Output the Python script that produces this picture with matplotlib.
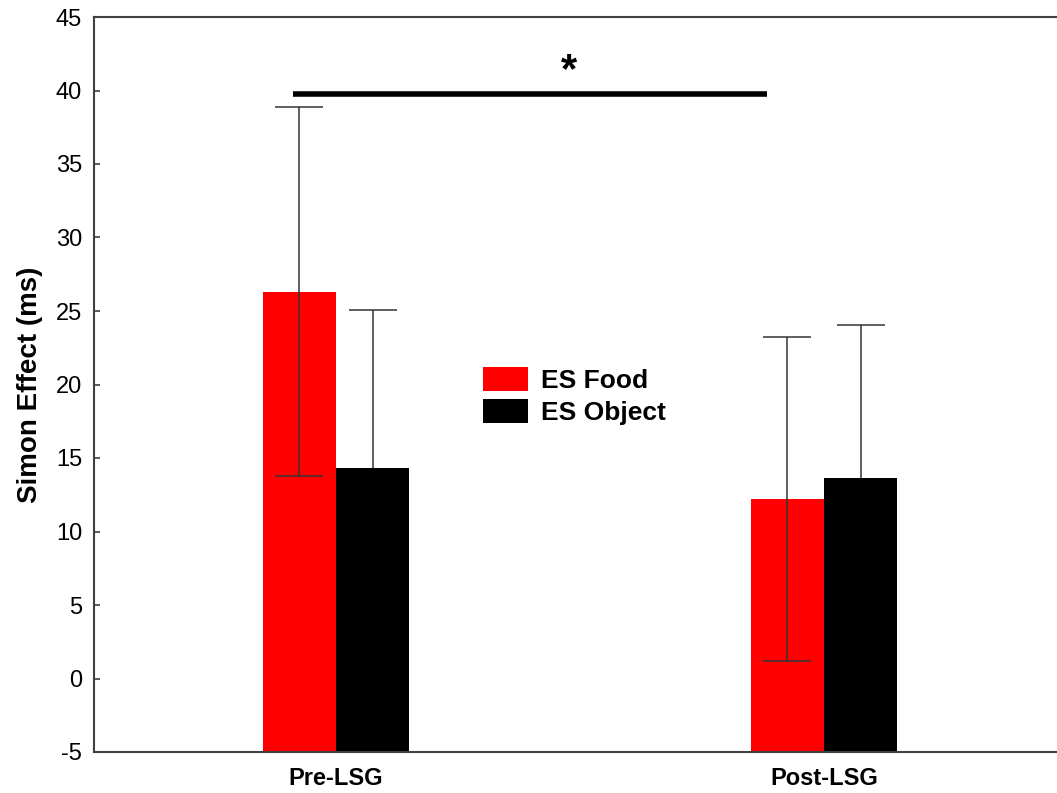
import matplotlib
matplotlib.use("Agg")
import matplotlib.pyplot as plt
import numpy as np

plt.rcParams['font.family'] = ['Liberation Sans', 'DejaVu Sans']
plt.rcParams['axes.unicode_minus'] = False

groups = ["Pre-LSG", "Post-LSG"]
series = ["ES Food", "ES Object"]
food_means = [26.3, 12.2]
food_err = [12.55, 11.0]
object_means = [14.3, 13.65]
object_err = [10.8, 10.37]
yticks = [-5, 0, 5, 10, 15, 20, 25, 30, 35, 40, 45]

colors = ["#ff0000", "#000000"]
dpi = 100
fig = plt.figure(figsize=(10.57, 7.93), dpi=dpi)
W, H = 1057, 793
left, right, top, bottom = 94, 1068, 17, 752
ax = fig.add_axes([left / W, 1 - bottom / H, (right - left) / W, (bottom - top) / H])

x = np.arange(len(groups))
width = 0.15
base = -5
ecol = "#333333"
for i, (means, errs) in enumerate([(food_means, food_err), (object_means, object_err)]):
    pos = x + (i - 0.5) * width
    ax.bar(pos, np.array(means) - base, width, bottom=base, color=colors[i],
           label=series[i], edgecolor="none", zorder=2)
    # the food error bars sit in front of the red bars, the object ones behind the black bars
    ax.errorbar(pos, means, yerr=errs, fmt="none", ecolor=ecol, elinewidth=1.1,
                capsize=17.5, capthick=1.1, zorder=3 if i == 0 else 1)

ax.set_xlim(-0.496, 1.5)
ax.set_ylim(-5, 45)
ax.set_yticks(yticks)
ax.set_xticks(x)
ax.set_xticklabels(groups, fontweight="bold", fontsize=17)
ax.tick_params(axis="x", length=0, pad=11)
ax.tick_params(axis="y", direction="in", length=4, width=1.2, color="#404040",
               labelsize=17, pad=8.5)
for s in ax.spines.values():
    s.set_color("#404040")
    s.set_linewidth(1.5)
ax.set_ylabel("Simon Effect (ms)", fontweight="bold", fontsize=20, labelpad=9)

# significance bracket between conditions
ax.plot([-0.088, 0.883], [39.74, 39.74], color="black", lw=4, solid_capstyle="butt", zorder=4)
ax.text(0.478, 41.3, "*", ha="center", va="center", fontsize=30, fontweight="bold")

ax.legend(loc="upper left", bbox_to_anchor=((483 - left) / (right - left), 1 - (367 - top) / (bottom - top)),
          frameon=False, prop={"weight": "bold", "size": 19},
          handlelength=1.7, handleheight=1.0, handletextpad=0.5, labelspacing=0.25,
          borderaxespad=0, borderpad=0)

fig.savefig("out.png", dpi=dpi)
